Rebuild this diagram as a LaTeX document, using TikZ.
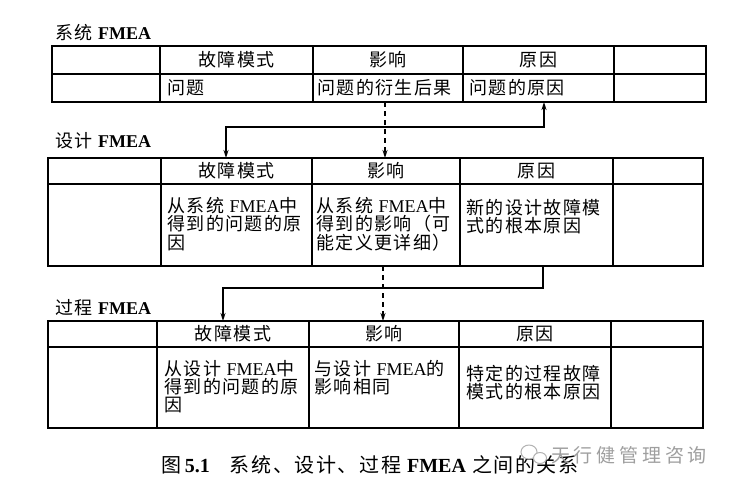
\documentclass[tikz,border=0pt]{standalone}
\usepackage{fontspec}
\setmainfont{Noto Sans CJK SC}[LetterSpace=8]
\newfontfamily\lat{Liberation Serif}
\usetikzlibrary{arrows.meta}
\newcommand\FM{{\lat FMEA}}
\newcommand\FMB{{\lat\bfseries FMEA}}
\newcommand\cellfont{\fontsize{18}{18.3}\selectfont}
\tikzset{
  tbl/.style={line width=1.6pt, line cap=rect},
  head/.style={inner sep=0pt, font=\cellfont},
  cell/.style={inner sep=0pt, font=\cellfont, align=left, anchor=north west},
  ttl/.style={inner sep=0pt, font=\cellfont, anchor=west},
  conn/.style={line width=1.4pt, -{Stealth[length=8pt,width=5pt]}},
  dconn/.style={conn, dash pattern=on 5pt off 4pt},
}
\begin{document}
\begin{tikzpicture}[x=1pt,y=-1pt]
\useasboundingbox (0,0) rectangle (738,491);
\fill[white] (0,0) rectangle (738,491);

% ---------- Table 1: 系统 FMEA ----------
\node[ttl] (t1t) at (55,33) {系统 \FMB};
\draw[tbl] (52,46) rectangle (706,102);
\draw[tbl] (52,74) -- (706,74);
\foreach \x in {160,313,463,614} \draw[tbl] (\x,46) -- (\x,102);
\node[head] (t1h2) at (236.5,60) {故障模式};
\node[head] (t1h3) at (388,60) {影响};
\node[head] (t1h4) at (538.5,60) {原因};
\node[ttl] (t1b2) at (167,88) {问题};
\node[ttl] (t1b3) at (317,88) {问题的衍生后果};
\node[ttl] (t1b4) at (469,88) {问题的原因};

% ---------- Table 2: 设计 FMEA ----------
\node[ttl] (t2t) at (55,141) {设计 \FMB};
\draw[tbl] (48,158) rectangle (703,266);
\draw[tbl] (48,184) -- (703,184);
\foreach \x in {161,312,460,613} \draw[tbl] (\x,158) -- (\x,266);
\node[head] (t2h2) at (236.5,171) {故障模式};
\node[head] (t2h3) at (386,171) {影响};
\node[head] (t2h4) at (536.5,171) {原因};
\node[cell] (t2b2) at (167,197) {从系统 \FM 中\\得到的问题的原\\因};
\node[cell] (t2b3) at (316,197) {从系统 \FM 中\\得到的影响（可\\能定义更详细）};
\node[cell] (t2b4) at (466,199) {新的设计故障模\\式的根本原因};

% ---------- Table 3: 过程 FMEA ----------
\node[ttl] (t3t) at (55,308) {过程 \FMB};
\draw[tbl] (48,321) rectangle (703,428);
\draw[tbl] (48,347) -- (703,347);
\foreach \x in {157,309,459,611} \draw[tbl] (\x,321) -- (\x,428);
\node[head] (t3h2) at (233,334) {故障模式};
\node[head] (t3h3) at (384,334) {影响};
\node[head] (t3h4) at (535,334) {原因};
\node[cell] (t3b2) at (164,360) {从设计 \FM 中\\得到的问题的原\\因};
\node[cell] (t3b3) at (314,360) {与设计 \FM 的\\影响相同};
\node[cell] (t3b4) at (466,365) {特定的过程故障\\模式的根本原因};

% ---------- connectors ----------
\coordinate (c1s) at (544,102);
\coordinate (c1a) at (544,127);
\coordinate (c1b) at (226,127);
\coordinate (c1e) at (226,158);
\draw[line width=1.4pt, {Stealth[length=8pt,width=5pt]}-{Stealth[length=8pt,width=5pt]}]
  (c1s) -- (c1a) -- (c1b) -- (c1e);
\coordinate (d1s) at (385,102);
\coordinate (d1e) at (385,158);
\draw[dconn] (d1s) -- (d1e);

\coordinate (c2s) at (543,266);
\coordinate (c2a) at (543,288);
\coordinate (c2b) at (223,288);
\coordinate (c2e) at (223,321);
\draw[conn] (c2s) -- (c2a) -- (c2b) -- (c2e);
\coordinate (d2s) at (383,266);
\coordinate (d2e) at (383,321);
\draw[dconn] (d2s) -- (d2e);

% ---------- caption ----------
\node[inner sep=0pt, font=\fontsize{20}{20}\selectfont] (cap) at (370,465)
  {图\,{\lat\bfseries 5.1}\hspace{1em}系统、设计、过程 \FMB\ 之间的关系};

% ---------- watermark ----------
\draw[gray!60, line width=1pt, fill=white] (529,452) ellipse (8 and 7);
\draw[gray!60, line width=1pt, fill=white] (540,458) ellipse (6.5 and 5.5);
\node[inner sep=0pt, anchor=west, text=gray!75,
  font=\fontsize{19}{19}\selectfont] (wm) at (551,455) {\addfontfeature{LetterSpace=20}天行健管理咨询};
\end{tikzpicture}
\end{document}
